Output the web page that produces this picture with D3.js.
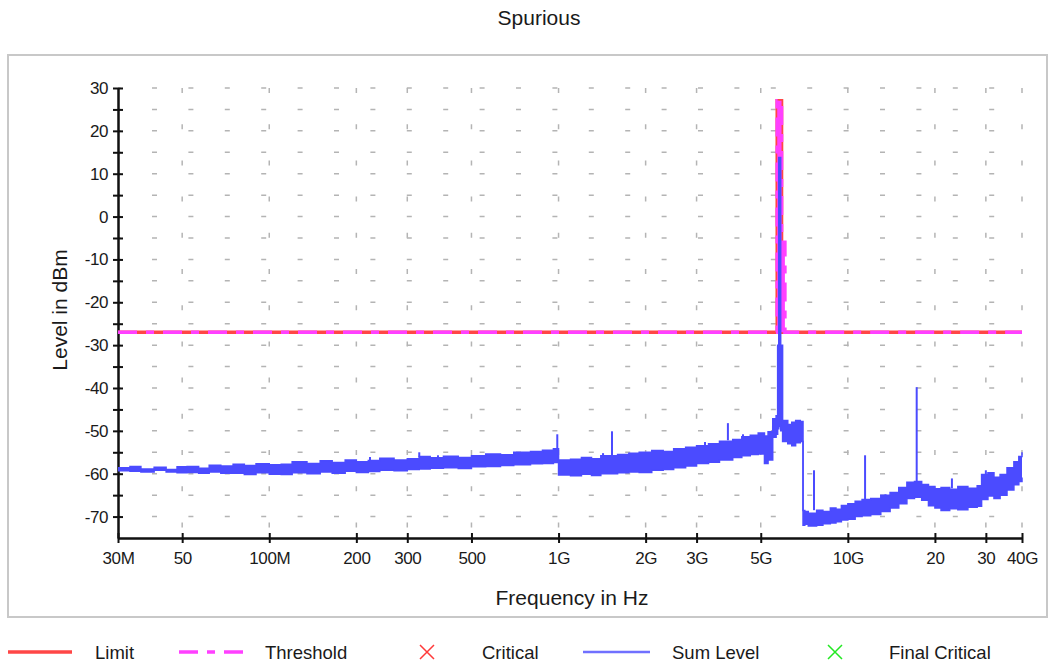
<!DOCTYPE html>
<html>
<head>
<meta charset="utf-8">
<script src="https://cdn.jsdelivr.net/npm/d3@7"></script>
<style>
body { margin: 0; background: #fff; }
text { font-family: "Liberation Sans", Arial, sans-serif; fill: #1a1a1a; }
</style>
</head>
<body>
<script>
// x tick values (Hz) and their labels
var xTicks = [30e6, 50e6, 1e8, 2e8, 3e8, 5e8, 1e9, 2e9, 3e9, 5e9, 1e10, 2e10, 3e10, 4e10];
var xTickLabels = ["30M", "50", "100M", "200", "300", "500", "1G", "2G", "3G", "5G", "10G", "20", "30", "40G"];
var yTicks = [30, 20, 10, 0, -10, -20, -30, -40, -50, -60, -70];

// limit / threshold (MHz, dBm)
var limitFreq  = [30, 5700, 5700, 5900, 5900, 40000];
var limitLevel = [-27, -27, 27, 27, -27, -27];
var thresholdFreq  = [30, 5700, 5700, 5900, 5900, 6060, 6060, 40000];
var thresholdLevel = [-27, -27, 27, 27, -6, -6, -27, -27];

// sum level trace, read as an upper / lower envelope (MHz, dBm)
var sumFreq = [30, 33, 36, 40, 44, 48, 52, 57, 62, 68, 75, 82, 90, 100, 110, 120, 135, 150, 165, 183,
  200, 220, 241, 270, 300, 330, 360, 400, 450, 500, 560, 630, 700, 800, 880, 960, 1000, 1100, 1200, 1300,
  1400, 1600, 1750, 1900, 2100, 2300, 2500, 2750, 3000, 3300, 3600, 4000, 4300, 4600, 4900, 5150, 5300, 5500, 5650, 5720,
  5770, 5860, 5950, 6200, 6400, 6600, 6850, 7000, 7100, 7300, 7800, 8200, 8700, 9100, 9500, 10000, 10600, 11200, 12000, 13000,
  14000, 15000, 16000, 17000, 18000, 19000, 20000, 21000, 22500, 24000, 26000, 28000, 29000, 30500, 32000, 33600, 35500, 37500, 39000, 40000];
var sumHi = [-58.6, -58.3, -58.9, -58.5, -59.0, -58.4, -58.3, -58.7, -58.0, -58.2, -57.8, -58.1, -57.7, -57.9, -57.8, -57.2, -57.6, -57.0, -57.4, -56.8,
  -57.2, -56.9, -56.4, -56.8, -56.5, -56.0, -56.3, -55.9, -56.2, -55.8, -55.4, -55.6, -55.0, -54.8, -54.5, -54.2, -56.8, -56.6, -56.2, -56.5,
  -55.8, -55.5, -55.2, -55.0, -54.6, -54.8, -54.2, -53.8, -53.5, -53.0, -52.4, -52.0, -51.4, -51.0, -50.5, -51.2, -50.2, -47.2, -46.5, -30.0,
  13.8, -30.0, -47.6, -48.5, -48.0, -47.6, -47.8, -68.6, -68.8, -69.2, -68.5, -68.8, -68.0, -68.3, -67.4, -67.0, -66.4, -66.0, -65.8, -65.0,
  -64.4, -63.2, -62.0, -61.8, -62.5, -63.0, -63.5, -63.2, -63.6, -63.0, -63.4, -62.8, -60.2, -59.8, -60.8, -60.2, -58.6, -57.2, -56.0, -55.0];
var sumLo = [-59.3, -59.4, -59.6, -59.2, -59.6, -59.8, -59.7, -59.9, -59.6, -59.9, -59.9, -60.2, -59.8, -60.1, -60.2, -59.8, -60.0, -59.6, -59.9, -59.4,
  -59.7, -59.5, -59.2, -59.3, -59.0, -58.9, -58.7, -58.6, -58.8, -58.4, -58.3, -58.1, -57.9, -57.7, -57.6, -57.4, -60.3, -60.5, -60.1, -60.4,
  -60.0, -59.8, -59.6, -59.7, -59.2, -59.0, -58.6, -58.2, -57.6, -57.3, -56.8, -56.2, -55.8, -55.5, -55.4, -57.6, -56.8, -51.5, -50.8, -49.5,
  -49.0, -50.0, -52.5, -53.0, -53.5, -52.8, -52.5, -72.0, -71.8, -72.2, -72.0, -71.7, -71.5, -71.2, -70.8, -70.6, -70.0, -69.8, -69.5, -68.8,
  -68.0, -67.0, -65.8, -65.5, -66.2, -67.5, -68.0, -68.6, -68.2, -68.4, -67.8, -67.6, -66.0, -65.2, -65.8, -65.0, -63.8, -62.6, -61.8, -60.9];

// narrow spurs on the trace (MHz, dBm)
var spurFreq = [223, 330, 383, 506, 724, 863, 990, 1425, 1530, 2242, 3208, 3850, 4342,
  7640, 11470, 13500, 17300, 22900, 30000];
var spurPeak = [-56.1, -55.0, -55.7, -55.7, -55.0, -54.7, -50.8, -55.2, -50.1, -54.5, -52.6, -48.2, -50.8,
  -59.2, -55.7, -64.8, -39.8, -61.1, -59.2];
var spurBase = [-57.0, -56.2, -56.3, -56.0, -55.6, -54.8, -54.5, -56.0, -55.8, -54.8, -53.4, -52.2, -51.4,
  -68.5, -66.0, -65.0, -61.8, -63.4, -60.2];

var legendNames = ["Limit", "Threshold", "Critical", "Sum Level", "Final Critical"];

var W = 1055, H = 663;
var pLeft = 118, pRight = 1022, pTop = 88, pBottom = 538;

var svg = d3.select("body").append("svg")
  .attr("width", W).attr("height", H);

// outer frame
svg.append("rect")
  .attr("x", 8).attr("y", 55).attr("width", 1039).attr("height", 562)
  .attr("fill", "none").attr("stroke", "#c8c8c8").attr("stroke-width", 2);

var x = d3.scaleLog().domain([30e6, 40e9]).range([pLeft, pRight]);
var y = d3.scaleLinear().domain([-75, 30]).range([pBottom, pTop]);
var mhz = function(f) { return x(f * 1e6); };

// grid
var grid = svg.append("g").attr("stroke", "#b4b4b4").attr("stroke-width", 1.5);
grid.selectAll(".hg")
  .data(d3.range(-70, 31, 5))
  .enter().append("line")
  .attr("x1", pLeft).attr("x2", pRight)
  .attr("y1", function(d) { return y(d); })
  .attr("y2", function(d) { return y(d); })
  .attr("stroke-dasharray", "5,31.4")
  .attr("stroke-dashoffset", 2.4);
grid.selectAll(".vg")
  .data(xTicks.slice(1))
  .enter().append("line")
  .attr("y1", pTop).attr("y2", pBottom)
  .attr("x1", function(d) { return x(d); })
  .attr("x2", function(d) { return x(d); })
  .attr("stroke-dasharray", "5,31.2");

// axes
var xAxis = d3.axisBottom(x).tickValues(xTicks)
  .tickFormat(function(d, i) { return xTickLabels[i]; })
  .tickSize(5).tickSizeOuter(0).tickPadding(9);
var xAxisTop = d3.axisTop(x).tickValues(xTicks).tickFormat("").tickSize(5).tickSizeOuter(0);
var yAxis = d3.axisLeft(y).tickValues(d3.range(-70, 31, 5))
  .tickFormat(function(d) { return yTicks.indexOf(d) >= 0 ? d : ""; })
  .tickSize(5).tickSizeOuter(0).tickPadding(5);
var yAxisRight = d3.axisRight(y).tickValues(d3.range(-70, 31, 5)).tickFormat("").tickSize(5).tickSizeOuter(0);

function styleAxis(g) {
  g.attr("font-family", null).attr("font-size", null);
  g.selectAll("path, line").attr("stroke", "#111").attr("stroke-width", 2);
  g.selectAll("text").style("font-size", "17px").style("letter-spacing", "-0.4px")
    .attr("fill", "#1a1a1a");
}

svg.append("g").attr("transform", "translate(0," + pBottom + ")").call(xAxis).call(styleAxis);
svg.append("g").attr("transform", "translate(0," + pBottom + ")").call(xAxisTop).call(styleAxis);
svg.append("g").attr("transform", "translate(" + pLeft + ",0)").call(yAxis).call(styleAxis);
svg.append("g").attr("transform", "translate(" + pLeft + ",0)").call(yAxisRight).call(styleAxis);

// limit and threshold
var stepLine = d3.line()
  .x(function(d) { return mhz(d[0]); })
  .y(function(d) { return y(d[1]); });

svg.append("path")
  .datum(d3.zip(limitFreq, limitLevel))
  .attr("d", stepLine)
  .attr("fill", "none").attr("stroke", "#ff4646").attr("stroke-width", 3.5);

svg.append("path")
  .datum(d3.zip(thresholdFreq, thresholdLevel))
  .attr("d", stepLine)
  .attr("fill", "#ff40ff").attr("stroke", "#ff40ff").attr("stroke-width", 3.5)
  .attr("stroke-dasharray", "19,9,8,9");

// sum level
var sumData = d3.zip(sumFreq, sumHi, sumLo);
var band = d3.area().curve(d3.curveStepAfter)
  .x(function(d) { return mhz(d[0]); })
  .y0(function(d) { return y(d[2]); })
  .y1(function(d) { return y(d[1]); });
var hiLine = d3.line().curve(d3.curveStepAfter)
  .x(function(d) { return mhz(d[0]); })
  .y(function(d) { return y(d[1]); });
var loLine = d3.line().curve(d3.curveStepAfter)
  .x(function(d) { return mhz(d[0]); })
  .y(function(d) { return y(d[2]); });

svg.append("path").datum(sumData).attr("d", band).attr("fill", "#4b4bff");
svg.append("path").datum(sumData).attr("d", hiLine)
  .attr("fill", "none").attr("stroke", "#4b4bff").attr("stroke-width", 1.5);
svg.append("path").datum(sumData).attr("d", loLine)
  .attr("fill", "none").attr("stroke", "#4b4bff").attr("stroke-width", 1.5);

svg.selectAll(".spur")
  .data(d3.zip(spurFreq, spurPeak, spurBase))
  .enter().append("line")
  .attr("class", "spur")
  .attr("x1", function(d) { return mhz(d[0]); })
  .attr("x2", function(d) { return mhz(d[0]); })
  .attr("y1", function(d) { return y(d[1]); })
  .attr("y2", function(d) { return y(d[2]); })
  .attr("stroke", "#4b4bff").attr("stroke-width", 2);

// titles
svg.append("text").attr("x", 539).attr("y", 25).attr("text-anchor", "middle")
  .style("font-size", "21px").text("Spurious");
svg.append("text").attr("x", 572).attr("y", 605).attr("text-anchor", "middle")
  .style("font-size", "21px").text("Frequency in Hz");
svg.append("text").attr("transform", "translate(67,310) rotate(-90)").attr("text-anchor", "middle")
  .style("font-size", "21px").text("Level in dBm");

// legend
var lg = svg.append("g");
var ly = 652;
lg.append("line").attr("x1", 8).attr("x2", 72).attr("y1", ly).attr("y2", ly)
  .attr("stroke", "#ff4646").attr("stroke-width", 3.5);
lg.append("line").attr("x1", 179).attr("x2", 245).attr("y1", ly).attr("y2", ly)
  .attr("stroke", "#ff40ff").attr("stroke-width", 3.5).attr("stroke-dasharray", "19,9,8,9");
function cross(cx, color) {
  lg.append("path")
    .attr("d", "M" + (cx - 7) + "," + (ly - 7) + "L" + (cx + 7) + "," + (ly + 7) +
               "M" + (cx + 7) + "," + (ly - 7) + "L" + (cx - 7) + "," + (ly + 7))
    .attr("stroke", color).attr("stroke-width", 1.5).attr("fill", "none");
}
cross(427, "#ff3a3a");
lg.append("line").attr("x1", 583).attr("x2", 650).attr("y1", ly).attr("y2", ly)
  .attr("stroke", "#7070ff").attr("stroke-width", 2.5);
cross(835, "#22e822");

var legendX = [95, 265, 482, 672, 889];
lg.selectAll(".lt")
  .data(legendNames)
  .enter().append("text")
  .attr("x", function(d, i) { return legendX[i]; })
  .attr("y", 659)
  .style("font-size", "18.5px")
  .text(function(d) { return d; });
</script>
</body>
</html>
